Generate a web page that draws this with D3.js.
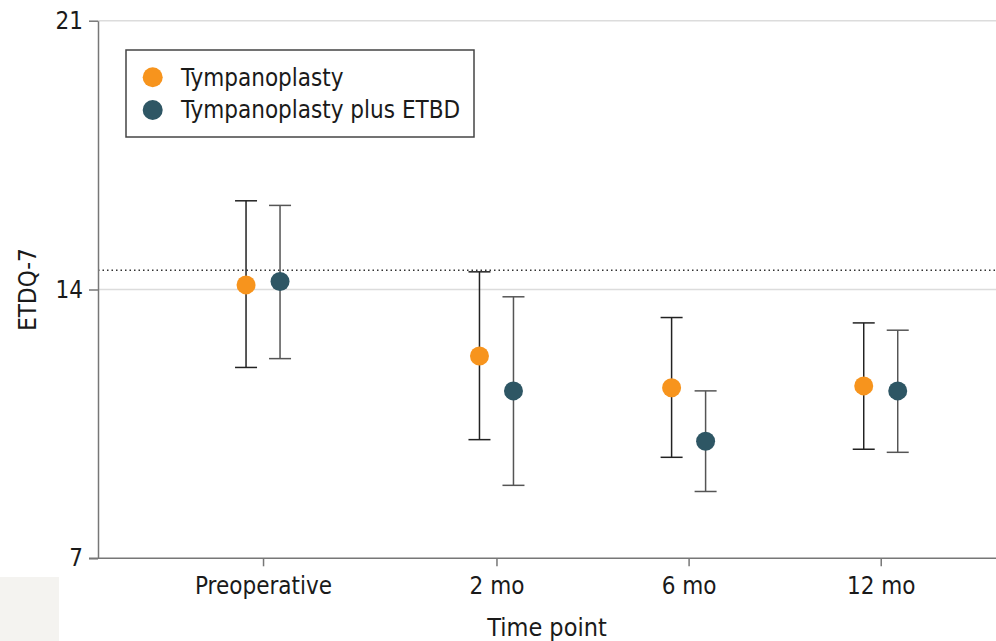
<!DOCTYPE html>
<html>
<head>
<meta charset="utf-8">
<script src="https://cdn.jsdelivr.net/npm/d3@7"></script>
<style>
  html, body { margin: 0; padding: 0; background: #fff; }
  svg { display: block; }
  text { font-family: "Liberation Sans Narrow", "DejaVu Sans Condensed", "Roboto", sans-serif; fill: #1a1a1a; }
</style>
</head>
<body>
<script>
// chart data
const timePoints = ["Preoperative", "2 mo", "6 mo", "12 mo"];
const seriesNames = ["Tympanoplasty", "Tympanoplasty plus ETBD"];
const seriesColors = ["#F7941D", "#2E5664"];

const tympMean  = [14.12, 12.27, 11.44, 11.49];
const tympLow   = [11.97, 10.09, 9.63, 9.84];
const tympHigh  = [16.31, 14.46, 13.27, 13.13];

const etbdMean  = [14.21, 11.36, 10.05, 11.36];
const etbdLow   = [12.20, 8.90, 8.74, 9.76];
const etbdHigh  = [16.19, 13.81, 11.36, 12.94];

const yTicks = [7, 14, 21];
const referenceLine = 14.5;

const W = 996, H = 641;
const margin = { top: 20.7, right: 0, bottom: 82.7, left: 98 };
const preopSlot = -0.215;   // preoperative sits a bit further left than the follow-ups
const dodge = 17;

const svg = d3.select("body").append("svg")
    .attr("width", W)
    .attr("height", H);

// cropped panel remnant in the corner
svg.append("rect")
    .attr("x", 0).attr("y", 577)
    .attr("width", 59).attr("height", 64)
    .attr("fill", "#f4f3f0");

const slot = (d, i) => i === 0 ? preopSlot : i;

const x = d3.scaleLinear()
    .domain([-1.074, 3.6])
    .range([margin.left, W - margin.right]);

const y = d3.scaleLinear()
    .domain([7, 21])
    .range([H - margin.bottom, margin.top]);

// gridlines
svg.append("g")
    .selectAll("line")
    .data(yTicks.filter(t => t !== 7))
    .enter().append("line")
    .attr("x1", margin.left)
    .attr("x2", W)
    .attr("y1", d => y(d))
    .attr("y2", d => y(d))
    .attr("stroke", "#dcdcdc")
    .attr("stroke-width", 1.5);

// reference line
svg.append("line")
    .attr("x1", margin.left)
    .attr("x2", W)
    .attr("y1", y(referenceLine))
    .attr("y2", y(referenceLine))
    .attr("stroke", "#333")
    .attr("stroke-width", 1.5)
    .attr("stroke-dasharray", "1.5,3");

// y axis
const yAxis = svg.append("g")
    .attr("transform", `translate(${margin.left},0)`)
    .call(d3.axisLeft(y)
        .tickValues(yTicks)
        .tickSize(9)
        .tickPadding(6)
        .tickSizeOuter(0));
yAxis.select(".domain").attr("stroke", "#777").attr("stroke-width", 1.5);
yAxis.selectAll(".tick line").attr("stroke", "#777").attr("stroke-width", 1.5);
yAxis.selectAll(".tick text")
    .style("font-size", "24px")
    .attr("fill", "#1a1a1a");

// x axis
const xAxis = svg.append("g")
    .attr("transform", `translate(0,${H - margin.bottom})`)
    .call(d3.axisBottom(x)
        .tickValues(timePoints.map(slot))
        .tickFormat((d, i) => timePoints[i])
        .tickSize(8)
        .tickPadding(11)
        .tickSizeOuter(0));
xAxis.select(".domain")
    .attr("d", `M${margin.left - 9},0H${W}`)
    .attr("stroke", "#777").attr("stroke-width", 1.5);
xAxis.selectAll(".tick line").attr("stroke", "#777").attr("stroke-width", 1.5);
xAxis.selectAll(".tick text")
    .style("font-size", "24px")
    .attr("fill", "#1a1a1a");

// axis titles
svg.append("text")
    .attr("x", (margin.left + W) / 2)
    .attr("y", 636)
    .attr("text-anchor", "middle")
    .style("font-size", "25px")
    .text("Time point");

svg.append("text")
    .attr("transform", `translate(36,${(y(7) + y(21)) / 2}) rotate(-90)`)
    .attr("text-anchor", "middle")
    .style("font-size", "24px")
    .text("ETDQ-7");

// points with 95% CI
const series = [
    { mean: tympMean, low: tympLow, high: tympHigh, color: seriesColors[0], shift: -dodge, stroke: "#222" },
    { mean: etbdMean, low: etbdLow, high: etbdHigh, color: seriesColors[1], shift: dodge, stroke: "#555" }
];

series.forEach(s => {
    const rows = timePoints.map((t, i) => ({
        cx: x(slot(t, i)) + s.shift,
        mean: s.mean[i], low: s.low[i], high: s.high[i]
    }));
    const g = svg.append("g");

    g.selectAll(".whisker")
        .data(rows)
        .enter().append("line")
        .attr("x1", d => d.cx).attr("x2", d => d.cx)
        .attr("y1", d => y(d.low)).attr("y2", d => y(d.high))
        .attr("stroke", s.stroke).attr("stroke-width", 1.5);

    ["low", "high"].forEach(k => {
        g.selectAll(".cap-" + k)
            .data(rows)
            .enter().append("line")
            .attr("x1", d => d.cx - 11).attr("x2", d => d.cx + 11)
            .attr("y1", d => y(d[k])).attr("y2", d => y(d[k]))
            .attr("stroke", s.stroke).attr("stroke-width", 1.5);
    });

    g.selectAll("circle")
        .data(rows)
        .enter().append("circle")
        .attr("cx", d => d.cx)
        .attr("cy", d => y(d.mean))
        .attr("r", 9.5)
        .attr("fill", s.color);
});

// legend
const legend = svg.append("g").attr("transform", "translate(126,50)");
legend.append("rect")
    .attr("width", 348)
    .attr("height", 87)
    .attr("fill", "#fff")
    .attr("stroke", "#444")
    .attr("stroke-width", 1.5);

seriesNames.forEach((name, i) => {
    const row = legend.append("g").attr("transform", `translate(0,${27.3 + i * 32.7})`);
    row.append("circle")
        .attr("cx", 26.7)
        .attr("r", 10)
        .attr("fill", seriesColors[i]);
    row.append("text")
        .attr("x", 55)
        .attr("dy", "0.35em")
        .style("font-size", "24px")
        .text(name);
});
</script>
</body>
</html>
